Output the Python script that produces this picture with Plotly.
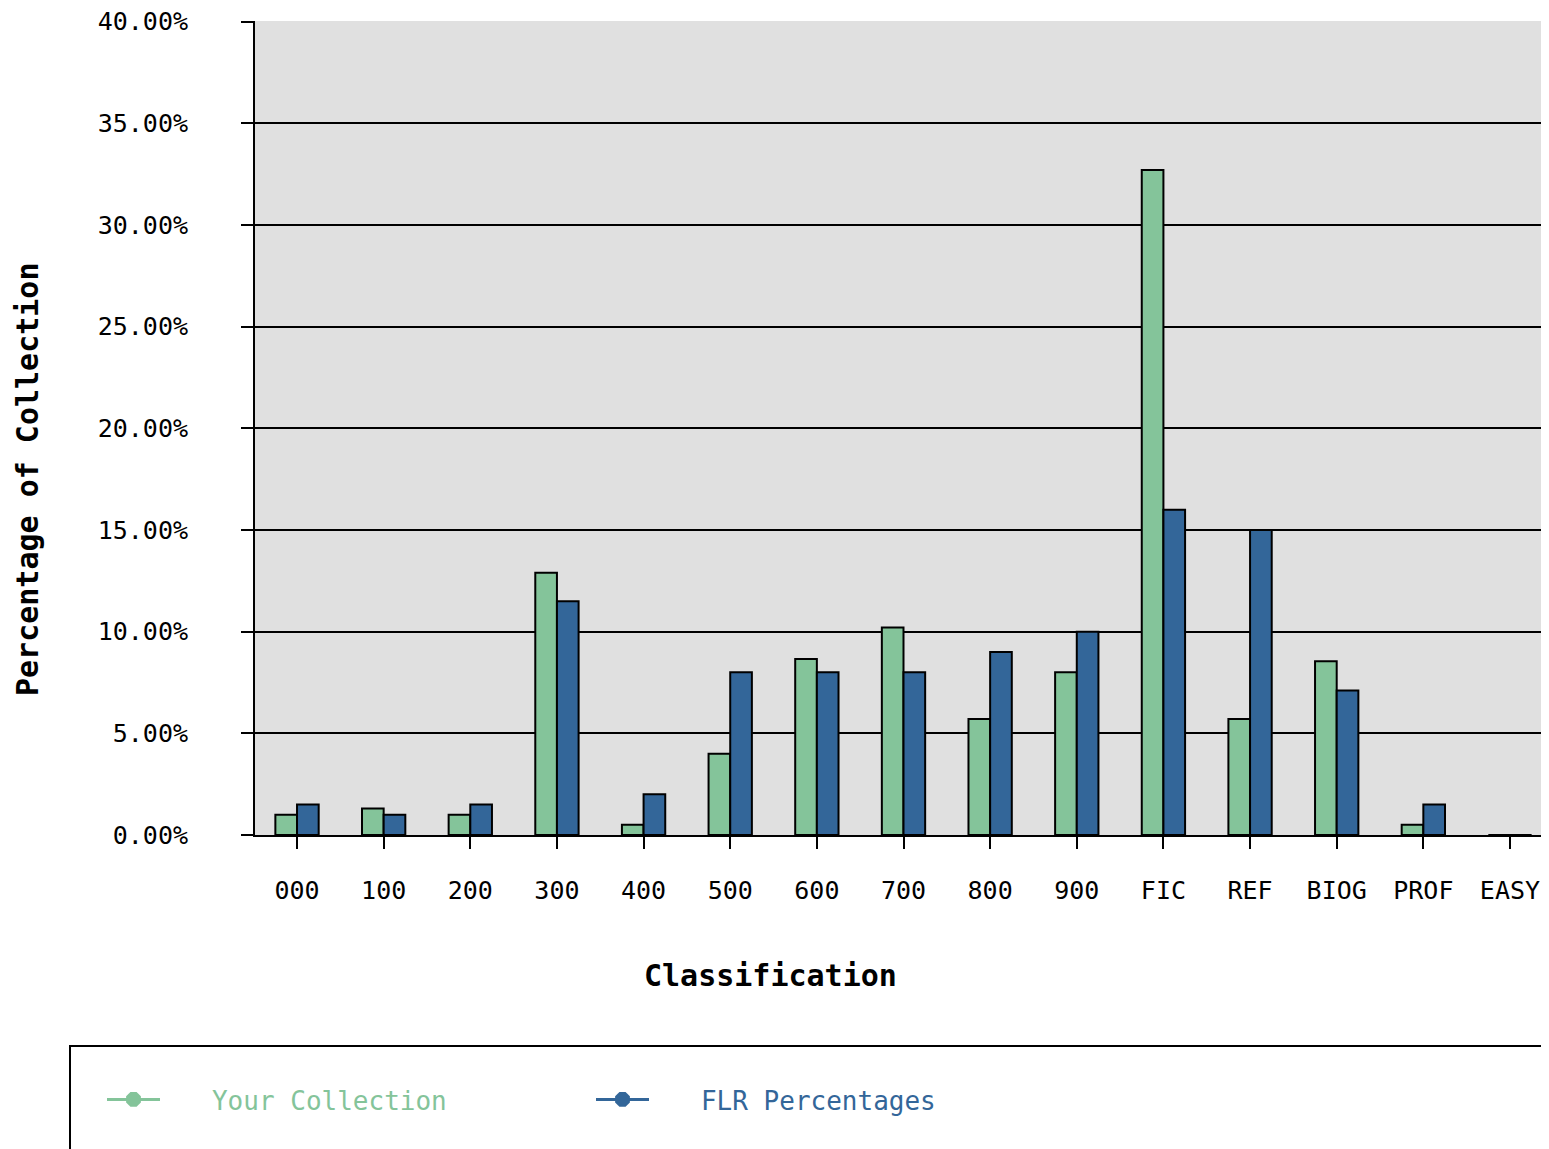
import plotly.graph_objects as go

categories = ["000", "100", "200", "300", "400", "500", "600", "700", "800", "900",
              "FIC", "REF", "BIOG", "PROF", "EASY"]
your_collection = [1.0, 1.3, 1.0, 12.9, 0.5, 4.0, 8.65, 10.2, 5.7, 8.0, 32.7, 5.7, 8.55, 0.5, 0.0]
flr_percentages = [1.5, 1.0, 1.5, 11.5, 2.0, 8.0, 8.0, 8.0, 9.0, 10.0, 16.0, 15.0, 7.1, 1.5, 0.0]
y_ticks = [0, 5, 10, 15, 20, 25, 30, 35, 40]
y_tick_labels = ["%.2f%%" % v for v in y_ticks]

GREEN = "#84c49a"
BLUE = "#336699"
OFF = 8                      # default page body margin
RIGHT = 1541                 # visible right edge of the page
W, H = RIGHT - OFF, 1149 - OFF
L, T, B = 255, 21, 835       # plot edges in page pixels
PW, PH = RIGHT - L, B - T


def px(x):
    return (x - L) / PW


def py(y):
    return (B - y) / PH


mono = "DejaVu Sans Mono"

fig = go.Figure()
fig.add_trace(go.Bar(x=categories, y=your_collection, marker=dict(color=GREEN, line=dict(color="black", width=2)),
                     showlegend=False, name="Your Collection"))
fig.add_trace(go.Bar(x=categories, y=flr_percentages, marker=dict(color=BLUE, line=dict(color="black", width=2)),
                     showlegend=False, name="FLR Percentages"))
# legend entries
fig.add_trace(go.Scatter(x=[None], y=[None], mode="lines+markers",
                         line=dict(color=GREEN, width=3), marker=dict(color=GREEN, size=16, symbol="octagon"),
                         name='&nbsp;&nbsp;&nbsp;<span style="color:%s">Your Collection</span>' % GREEN))
fig.add_trace(go.Scatter(x=[None], y=[None], mode="lines+markers",
                         line=dict(color=BLUE, width=3), marker=dict(color=BLUE, size=16, symbol="octagon"),
                         name='&nbsp;&nbsp;&nbsp;<span style="color:%s">FLR Percentages</span>' % BLUE))

fig.update_layout(
    width=W, height=H,
    margin=dict(l=L - OFF, r=0, t=T - OFF, b=(H + OFF - B), pad=0),
    paper_bgcolor="white",
    plot_bgcolor="#e0e0e0",
    barmode="group",
    bargap=0.5,
    bargroupgap=0,
    font=dict(family=mono, size=25, color="black"),
    showlegend=True,
    legend=dict(orientation="h", x=px(102), y=py(1076), xanchor="left", yanchor="top",
                bgcolor="rgba(0,0,0,0)", borderwidth=0, entrywidth=421, entrywidthmode="pixels",
                itemwidth=53, font=dict(family=mono, size=26)),
    xaxis=dict(type="category", range=[-0.485, 14.358], showgrid=False,
               showline=True, linecolor="black", linewidth=2,
               ticks="outside", ticklen=12, tickwidth=2, tickcolor="black",
               ticklabelstandoff=20, ticklabeloverflow="allow", zeroline=False, fixedrange=True),
    yaxis=dict(range=[0, 40.03], tickvals=y_ticks, ticktext=y_tick_labels,
               showgrid=True, gridcolor="black", gridwidth=2,
               showline=True, linecolor="black", linewidth=2,
               ticks="outside", ticklen=12, tickwidth=2, tickcolor="black",
               ticklabelstandoff=48, ticklabeloverflow="allow", zeroline=False, fixedrange=True),
    shapes=[dict(type="rect", xref="paper", yref="paper", x0=px(70), x1=px(1600), y0=py(1046), y1=py(1200),
                 line=dict(color="black", width=2), fillcolor="rgba(0,0,0,0)", layer="below")],
    annotations=[
        dict(text="<b>Classification</b>", xref="paper", yref="paper", x=px(770), y=py(976),
             xanchor="center", yanchor="middle", showarrow=False, font=dict(family=mono, size=30)),
        dict(text="<b>Percentage of Collection</b>", xref="paper", yref="paper", x=px(27), y=py(480),
             xanchor="center", yanchor="middle", textangle=-90, showarrow=False, font=dict(family=mono, size=30)),
    ],
)

fig.write_html("out.html")
